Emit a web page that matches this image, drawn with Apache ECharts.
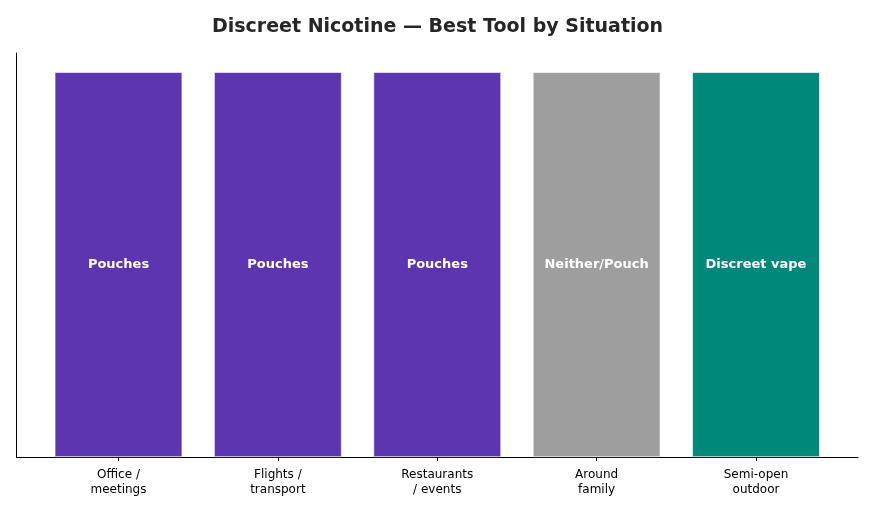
<!DOCTYPE html>
<html>
<head>
<meta charset="utf-8">
<script src="https://cdn.jsdelivr.net/npm/echarts@6/dist/echarts.min.js"></script>
<style>
html,body{margin:0;padding:0;background:#fff;}
#c{width:875px;height:508px;}
</style>
</head>
<body>
<div id="c"></div>
<script>
const categories = ["Office /\nmeetings", "Flights /\ntransport", "Restaurants\n/ events", "Around\nfamily", "Semi-open\noutdoor"];
const bestTool = ["Pouches", "Pouches", "Pouches", "Neither/Pouch", "Discreet vape"];
const values = [1, 1, 1, 1, 1];
const toolColors = { "Pouches": "#5e35b1", "Neither/Pouch": "#9e9e9e", "Discreet vape": "#00897b" };

const xMin = -0.64, xMax = 4.64;
const gridLeft = 16.5, gridRight = 17, gridTop = 53, gridBottom = 51;
const chart = echarts.init(document.getElementById('c'), null, { renderer: 'canvas' });
const gridW = 875 - gridLeft - gridRight;
const unitPx = gridW / (xMax - xMin);
const idx = categories.map((_, i) => i);

chart.setOption({
  animation: false,
  backgroundColor: '#fff',
  textStyle: { fontFamily: 'DejaVu Sans' },
  title: {
    text: 'Discreet Nicotine \u2014 Best Tool by Situation',
    left: 'center', top: 13,
    textStyle: { fontSize: 19, fontWeight: 'bold', color: '#262626', fontFamily: 'DejaVu Sans' }
  },
  grid: { left: gridLeft, right: gridRight, top: gridTop, bottom: gridBottom, containLabel: false },
  xAxis: {
    type: 'value', min: xMin, max: xMax,
    splitLine: { show: false },
    axisLine: { show: true, onZero: false, lineStyle: { color: '#000', width: 1 } },
    axisTick: { show: true, customValues: idx, length: 4, lineStyle: { color: '#000', width: 1 } },
    axisLabel: {
      show: true, customValues: idx, margin: 10,
      formatter: v => categories[Math.round(v)] || '',
      color: '#000', fontSize: 12, lineHeight: 15, fontFamily: 'DejaVu Sans'
    }
  },
  yAxis: {
    type: 'value', min: 0, max: 1.05,
    splitLine: { show: false },
    axisLine: { show: true, onZero: false, lineStyle: { color: '#000', width: 1 } },
    axisTick: { show: false },
    axisLabel: { show: false }
  },
  series: [{
    type: 'bar',
    barWidth: unitPx * 0.8,
    data: values.map((v, i) => ({
      value: [i, v],
      itemStyle: { color: toolColors[bestTool[i]], borderColor: '#fff', borderWidth: 0.6 },
      label: { formatter: bestTool[i] }
    })),
    label: {
      show: true, position: 'inside',
      color: '#fff', fontWeight: 'bold', fontSize: 13, fontFamily: 'DejaVu Sans'
    }
  }]
});
</script>
</body>
</html>
